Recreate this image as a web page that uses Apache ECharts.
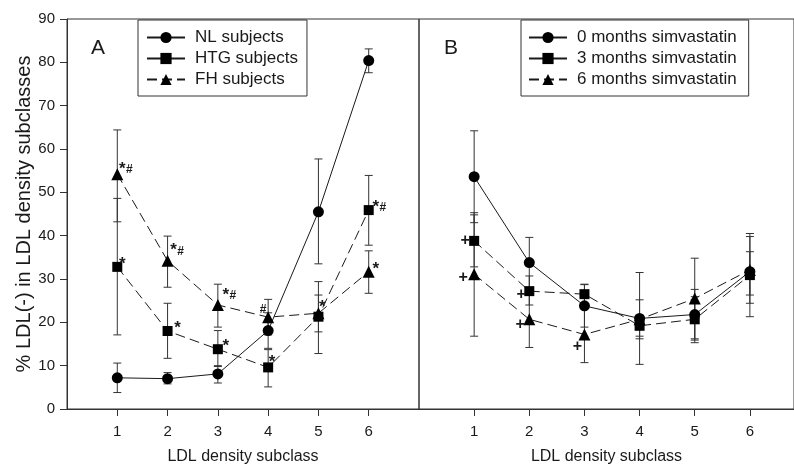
<!DOCTYPE html>
<html>
<head>
<meta charset="utf-8">
<script src="https://cdn.jsdelivr.net/npm/echarts@6/dist/echarts.min.js"></script>
<style>
  html, body { margin: 0; padding: 0; background: #fff; }
  #chart { width: 794px; height: 470px; }
</style>
</head>
<body>
<div id="chart"></div>
<script>
// LDL subclass data
const xTicks = [1, 2, 3, 4, 5, 6]

// panel A
const nlMean = [7.2, 7.0, 8.1, 18.1, 45.5, 80.4]
const nlLow = [3.8, 5.8, 6.0, 14.0, 33.5, 77.6]
const nlHigh = [10.6, 8.4, 10.0, 22.2, 57.7, 83.1]
const htgMean = [32.8, 18.0, 13.8, 9.6, 21.3, 45.9]
const htgLow = [17.1, 11.7, 9.8, 5.1, 12.8, 37.8]
const htgHigh = [48.6, 24.4, 18.1, 13.7, 29.4, 53.9]
const fhMean = [54.2, 34.2, 24.0, 21.2, 22.1, 31.7]
const fhLow = [43.2, 28.1, 18.9, 17.1, 17.8, 26.7]
const fhHigh = [64.4, 39.9, 28.8, 25.3, 26.3, 36.5]
const htgNotes = ['*', '*', '*', '*', '*', '*#']
const fhNotes = ['*#', '*#', '*#', '#', '', '*']

// panel B
const m0Mean = [53.6, 33.8, 23.8, 20.9, 21.8, 31.7]
const m0Low = [43.0, 28.0, 18.9, 10.3, 15.9, 24.4]
const m0High = [64.2, 39.6, 28.7, 31.5, 27.6, 40.5]
const m3Mean = [38.8, 27.2, 26.5, 19.2, 20.7, 30.9]
const m3Low = [32.8, 24.0, 24.2, 16.8, 15.3, 21.3]
const m3High = [44.8, 30.7, 28.8, 21.6, 25.9, 39.8]
const m6Mean = [31.1, 20.7, 17.2, 20.7, 25.5, 32.1]
const m6Low = [16.8, 14.2, 10.7, 16.2, 16.2, 26.3]
const m6High = [45.3, 27.2, 23.7, 25.2, 34.8, 36.3]
const m3Notes = ['+', '+', '', '', '', '']
const m6Notes = ['+', '+', '+', '', '', '']

const FONT = '"Liberation Sans", Arial, sans-serif'
const INK = '#1a1a1a'
const DASH = [10, 5]

// where each note sits relative to its marker (pixels)
const notePos = {
  htg: [[5, -8], [10, -8], [8, -8], [4, -10], [4, -14], [7, -8]],
  fh: [[5, -10], [6, -15], [8, -15], [-5, -7], [0, 0], [7, -7]],
  m3: [[-9, 0], [-8, 3]],
  m6: [[-11, 3], [-9, 5], [-7, 12]]
}

function pairs(ys) {
  return xTicks.map((x, i) => [x, ys[i]])
}

function errorBars(idx, low, high) {
  return {
    type: 'custom',
    xAxisIndex: idx,
    yAxisIndex: idx,
    z: 1,
    silent: true,
    data: xTicks.map((x, i) => [x, low[i], high[i]]),
    encode: { x: 0, y: [1, 2] },
    renderItem: function (params, api) {
      const a = api.coord([api.value(0), api.value(1)])
      const b = api.coord([api.value(0), api.value(2)])
      const w = 4
      const st = { stroke: '#333', lineWidth: 1 }
      return {
        type: 'group',
        children: [
          { type: 'line', shape: { x1: a[0], y1: a[1], x2: b[0], y2: b[1] }, style: st },
          { type: 'line', shape: { x1: a[0] - w, y1: a[1], x2: a[0] + w, y2: a[1] }, style: st },
          { type: 'line', shape: { x1: b[0] - w, y1: b[1], x2: b[0] + w, y2: b[1] }, style: st }
        ]
      }
    }
  }
}

function lineSeries(idx, name, ys, symbol, size, dashed) {
  return {
    type: 'line',
    name: name,
    xAxisIndex: idx,
    yAxisIndex: idx,
    z: 2,
    data: pairs(ys),
    symbol: symbol,
    symbolSize: size,
    itemStyle: { color: '#000' },
    lineStyle: { color: INK, width: 1, type: dashed ? DASH : 'solid' },
    animation: false
  }
}

function noteSeries(idx, ys, notes, pos) {
  return {
    type: 'custom',
    xAxisIndex: idx,
    yAxisIndex: idx,
    z: 3,
    silent: true,
    data: pairs(ys),
    renderItem: function (params, api) {
      const t = notes[params.dataIndex]
      if (!t) return null
      const p = api.coord([api.value(0), api.value(1)])
      const off = pos[params.dataIndex] || [0, 0]
      const cx = p[0] + off[0]
      const cy = p[1] + off[1]
      const kids = []
      for (let k = 0; k < t.length; k++) {
        const ch = t[k]
        let dx = 0, dy = 0, fs = 16
        if (ch === '*') { dy = 5; fs = 17 }
        if (ch === '#') { fs = 12; if (k > 0) { dx = 7; dy = 6 } }
        if (ch === '+') { fs = 16 }
        kids.push({
          type: 'text',
          x: cx + dx,
          y: cy + dy,
          style: { text: ch, font: 'bold ' + fs + 'px ' + FONT, fill: INK, align: 'center', verticalAlign: 'middle' }
        })
      }
      return { type: 'group', children: kids }
    }
  }
}

function xAxisFor(idx, max) {
  return {
    type: 'value',
    gridIndex: idx,
    min: 0,
    max: max,
    interval: 1,
    name: 'LDL density subclass',
    nameLocation: 'middle',
    nameGap: 40,
    nameTextStyle: { fontFamily: FONT, fontSize: 16, color: INK },
    axisLine: { show: true, lineStyle: { color: '#333', width: 1 } },
    axisTick: { show: true, length: 7, inside: false, customValues: xTicks, lineStyle: { color: '#333' } },
    axisLabel: { show: true, margin: 15, fontFamily: FONT, fontSize: 15, color: INK, customValues: xTicks },
    splitLine: { show: false }
  }
}

const chart = echarts.init(document.getElementById('chart'))

const legendBase = {
  orient: 'vertical',
  top: 20,
  itemWidth: 38,
  itemHeight: 14,
  itemGap: 4,
  padding: [9, 9, 8, 8],
  borderColor: '#333',
  borderWidth: 1,
  borderRadius: 0,
  backgroundColor: '#fff',
  textStyle: { fontFamily: FONT, fontSize: 17, color: INK, padding: [0, 0, 0, 5] }
}

const option = {
  backgroundColor: '#fff',
  animation: false,
  grid: [
    { left: 67, right: 375, top: 19, bottom: 61, show: true, borderColor: '#333', borderWidth: 1 },
    { left: 419, right: -1, top: 19, bottom: 61, show: true, borderColor: '#333', borderWidth: 1 }
  ],
  xAxis: [xAxisFor(0, 7), xAxisFor(1, 6.8)],
  yAxis: [
    {
      type: 'value',
      gridIndex: 0,
      min: 0,
      max: 90,
      interval: 10,
      name: '% LDL(-) in LDL density subclasses',
      nameLocation: 'middle',
      nameGap: 26,
      nameTextStyle: { fontFamily: FONT, fontSize: 20, color: INK },
      axisLine: { show: true, lineStyle: { color: '#333', width: 1 } },
      axisTick: { show: true, length: 7, lineStyle: { color: '#333' } },
      axisLabel: { margin: 12, fontFamily: FONT, fontSize: 15, color: INK },
      splitLine: { show: false }
    },
    {
      type: 'value',
      gridIndex: 1,
      min: 0,
      max: 90,
      interval: 10,
      axisLine: { show: false },
      axisTick: { show: false },
      axisLabel: { show: false },
      splitLine: { show: false }
    }
  ],
  legend: [
    Object.assign({}, legendBase, {
      left: 138,
      data: [
        { name: 'NL subjects' },
        { name: 'HTG subjects', lineStyle: { type: 'solid' } },
        { name: 'FH subjects' }
      ]
    }),
    Object.assign({}, legendBase, {
      left: 521,
      padding: [9, 12, 8, 7],
      data: [
        { name: '0 months simvastatin' },
        { name: '3 months simvastatin', lineStyle: { type: 'solid' } },
        { name: '6 months simvastatin' }
      ]
    })
  ],
  graphic: [
    { type: 'text', left: 91, top: 38, style: { text: 'A', font: '21px ' + FONT, fill: INK } },
    { type: 'text', left: 444, top: 38, style: { text: 'B', font: '21px ' + FONT, fill: INK } }
  ],
  series: [
    errorBars(0, nlLow, nlHigh),
    errorBars(0, htgLow, htgHigh),
    errorBars(0, fhLow, fhHigh),
    lineSeries(0, 'NL subjects', nlMean, 'circle', 11, false),
    lineSeries(0, 'HTG subjects', htgMean, 'rect', 10, true),
    lineSeries(0, 'FH subjects', fhMean, 'triangle', 12, true),
    noteSeries(0, htgMean, htgNotes, notePos.htg),
    noteSeries(0, fhMean, fhNotes, notePos.fh),

    errorBars(1, m0Low, m0High),
    errorBars(1, m3Low, m3High),
    errorBars(1, m6Low, m6High),
    lineSeries(1, '0 months simvastatin', m0Mean, 'circle', 11, false),
    lineSeries(1, '3 months simvastatin', m3Mean, 'rect', 10, true),
    lineSeries(1, '6 months simvastatin', m6Mean, 'triangle', 12, true),
    noteSeries(1, m3Mean, m3Notes, notePos.m3),
    noteSeries(1, m6Mean, m6Notes, notePos.m6)
  ]
}

chart.setOption(option)
</script>
</body>
</html>
